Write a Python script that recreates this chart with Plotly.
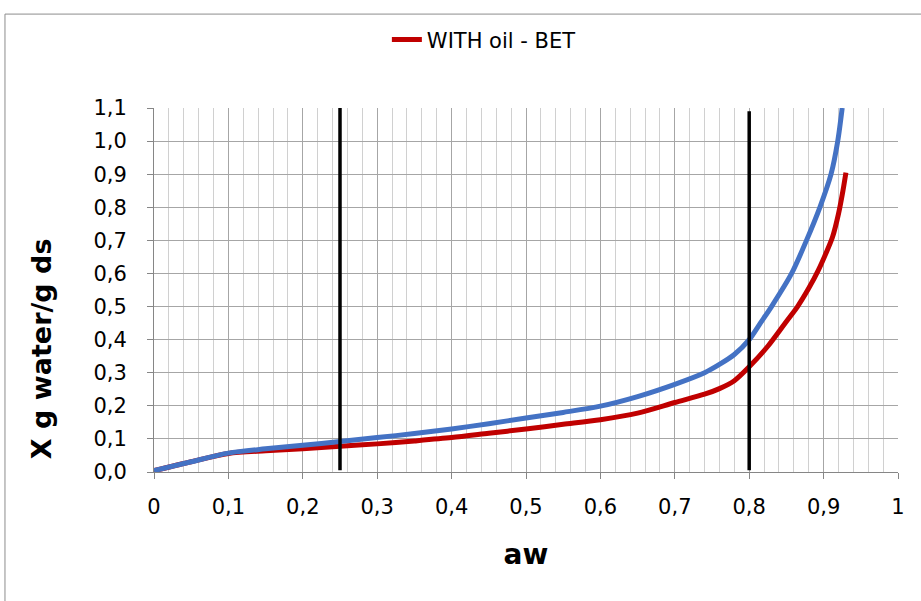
import plotly.graph_objects as go

# Sorption isotherm: moisture content X (g water / g dry solids) vs water activity aw
aw_blue = [0, 0.05, 0.1, 0.15, 0.2, 0.25, 0.3, 0.35, 0.4, 0.45, 0.5, 0.55, 0.6, 0.65,
           0.7, 0.74, 0.76, 0.78, 0.8, 0.815, 0.83, 0.857, 0.877, 0.895, 0.91, 0.919, 0.925]
x_blue = [0.004, 0.031, 0.057, 0.070, 0.081, 0.092, 0.104, 0.116, 0.130, 0.146, 0.163,
          0.180, 0.199, 0.228, 0.265, 0.300, 0.325, 0.355, 0.400, 0.450, 0.500, 0.600,
          0.700, 0.800, 0.900, 1.000, 1.100]

aw_red = [0, 0.05, 0.1, 0.15, 0.2, 0.25, 0.3, 0.35, 0.4, 0.45, 0.5, 0.55, 0.6, 0.65,
          0.7, 0.74, 0.76, 0.78, 0.8, 0.825, 0.85, 0.865, 0.88, 0.893, 0.903, 0.912,
          0.92, 0.926, 0.930]
x_red = [0.004, 0.031, 0.056, 0.064, 0.070, 0.078, 0.085, 0.094, 0.104, 0.117, 0.130,
         0.144, 0.158, 0.178, 0.210, 0.235, 0.252, 0.276, 0.318, 0.380, 0.455, 0.500,
         0.555, 0.610, 0.660, 0.710, 0.780, 0.850, 0.905]
red_name = "WITH oil - BET"

# Vertical reference lines at aw = 0.25 and aw = 0.8
ref_aw = [0.25, 0.8]
ref_bottom = [0.005, 0.005]
ref_top = [1.1, 1.09]

x_title = "aw"
y_title = "X g water/g ds"

FONT = "DejaVu Sans"

fig = go.Figure()

fig.add_trace(go.Scatter(
    x=aw_red, y=x_red, mode="lines", name=red_name,
    line=dict(color="#C00000", width=5, shape="spline", smoothing=0.8),
    showlegend=True,
))
fig.add_trace(go.Scatter(
    x=aw_blue, y=x_blue, mode="lines", name="",
    line=dict(color="#4472C4", width=5, shape="spline", smoothing=0.8),
    showlegend=False,
))
for a, y0, y1 in zip(ref_aw, ref_bottom, ref_top):
    fig.add_trace(go.Scatter(
        x=[a, a], y=[y0, y1], mode="lines",
        line=dict(color="black", width=3.5), showlegend=False, hoverinfo="skip",
    ))

# Outer chart frame
fig.add_shape(type="rect", xref="paper", yref="paper",
              x0=-0.2003, x1=1.2, y0=-0.6, y1=1.258,
              line=dict(color="#8c8c8c", width=1), fillcolor="rgba(0,0,0,0)",
              layer="below")

# Y-axis title placed as a rotated annotation
fig.add_annotation(
    text="<b>" + y_title + "</b>", xref="paper", yref="paper",
    x=-0.152, y=0.34, xanchor="center", yanchor="middle",
    textangle=-90, showarrow=False,
    font=dict(family=FONT, size=27, color="black"),
)

fig.update_layout(
    width=921, height=601,
    margin=dict(l=154, r=23, t=108, b=129, autoexpand=False),
    paper_bgcolor="white", plot_bgcolor="white",
    separators=", ",
    font=dict(family=FONT, color="black"),
    legend=dict(
        orientation="h", x=0.313, xanchor="left", y=1.187, yanchor="middle",
        font=dict(family=FONT, size=21, color="black"),
        bgcolor="rgba(0,0,0,0)",
    ),
    xaxis=dict(
        range=[0, 1], dtick=0.1, tick0=0,
        showgrid=True, gridcolor="#a6a6a6", gridwidth=1,
        minor=dict(dtick=0.02, tick0=0, showgrid=True, gridcolor="#d0d0d0", gridwidth=1),
        showline=True, linecolor="#868686", linewidth=1,
        ticks="outside", ticklen=6, tickcolor="#868686",
        tickfont=dict(family=FONT, size=21, color="black"),
        ticklabelstandoff=10,
        zeroline=False,
        title=dict(text="<b>" + x_title + "</b>", font=dict(family=FONT, size=28, color="black"),
                   standoff=26),
    ),
    yaxis=dict(
        range=[0, 1.1], dtick=0.1, tick0=0, tickformat=".1f",
        showgrid=True, gridcolor="#a6a6a6", gridwidth=1,
        showline=True, linecolor="#868686", linewidth=1,
        ticks="outside", ticklen=6, tickcolor="#868686",
        tickfont=dict(family=FONT, size=21, color="black"),
        ticklabelstandoff=16,
        zeroline=False,
    ),
)

fig.write_html("out.html")
